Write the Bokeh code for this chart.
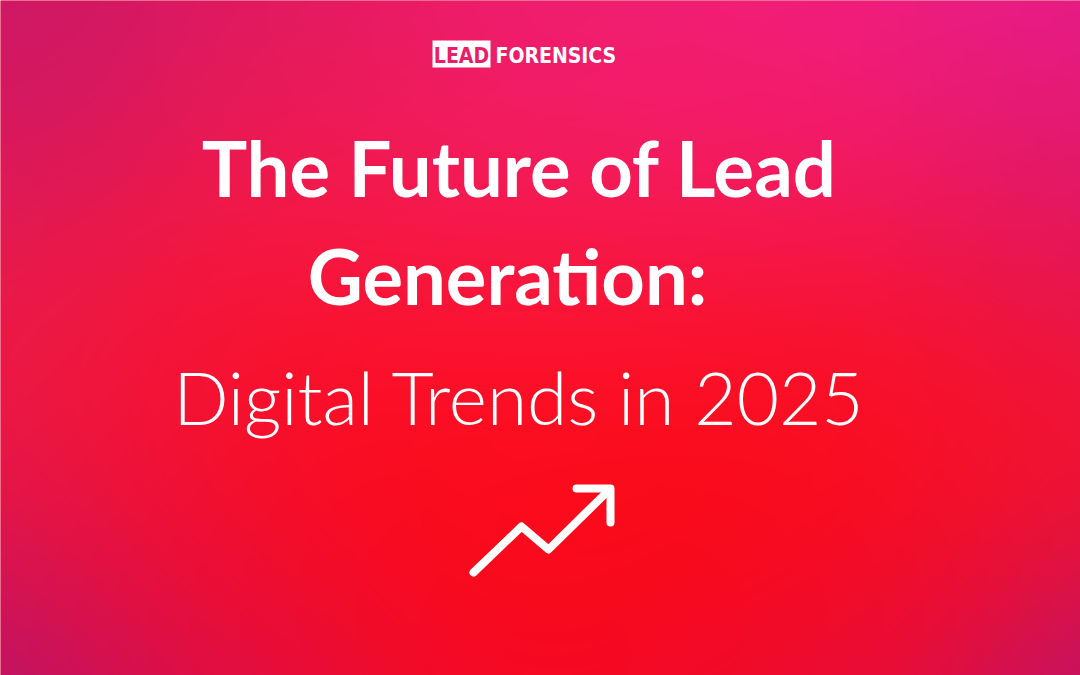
import numpy as np
from bokeh.plotting import figure
from bokeh.models import Range1d
from bokeh.core.properties import value
from bokeh.embed import file_html
from bokeh.resources import INLINE

# ---- content ----
title_lines = ["The Future of Lead", "Generation:"]
subtitle = "Digital Trends in 2025"
logo_left = "LEAD"
logo_right = "FORENSICS"

# anchor rows (reference pixels; data y = 675 - row)
title_rows = [167, 275]
title_centers = [519, 507]
subtitle_row = 396
subtitle_center = 519
logo_text_row = 55

# logo box (reference pixels)
logo_box_x = [432, 490]
logo_box_rows = [40, 67]

# trend arrow (reference pixels)
arrow_x = [473, 521, 548, 608]
arrow_rows = [572, 526, 549, 490]
head_x = [576, 610, 610]
head_rows = [488, 488, 522]

# background colour control points (x, row, colour)
bg_pts = [
    (0, 0, "#c8186a"), (300, 0, "#e01a64"), (600, 0, "#f01e78"), (1080, 0, "#ea1e96"),
    (820, 90, "#f41e84"), (1080, 150, "#e01a70"), (1080, 270, "#dc1556"),
    (1080, 450, "#fc1420"), (1080, 675, "#b0157a"), (800, 675, "#d80e58"),
    (540, 675, "#ee0a38"), (250, 675, "#c81064"), (0, 675, "#a0157e"),
    (0, 500, "#e8154a"), (0, 340, "#f01e48"), (0, 150, "#d8185e"),
    (540, 300, "#fa183c"), (540, 540, "#ff0606"), (300, 470, "#fe0c1c"),
    (800, 470, "#ff0c10"), (300, 220, "#f61a48"), (540, 130, "#f21e6a"),
    (200, 580, "#f80c28"), (850, 580, "#fc0a1c"), (780, 250, "#f41844"),
    (540, 420, "#ff1024"), (700, 560, "#ff0808"), (380, 560, "#ff0a12"),
    (150, 400, "#f81430"), (930, 380, "#fc1228"),
]

H = 675
W, PH = 1080, 675

p = figure(width=W, height=PH, output_backend="svg", toolbar_location=None,
           x_range=Range1d(0, W), y_range=Range1d(0, PH),
           min_border=0, outline_line_color=None)
p.axis.visible = False
p.grid.visible = False
p.background_fill_color = "#f01a45"
p.border_fill_color = "#f01a45"

# ---- gradient background ----
xs = np.arange(W) + 0.5
rows = (PH - 0.5) - np.arange(PH)
XX, RR = np.meshgrid(xs, rows)
acc = np.zeros((PH, W, 3))
wsum = np.zeros((PH, W))
sig = 130.0
for (cx, cr, col) in bg_pts:
    rgb = np.array([int(col[i:i + 2], 16) for i in (1, 3, 5)], dtype=float)
    w = np.exp(-((XX - cx) ** 2 + (RR - cr) ** 2) / (2 * sig ** 2)) + 1e-12
    acc += w[..., None] * rgb
    wsum += w
img_rgb = np.clip(acc / wsum[..., None], 0, 255).astype(np.uint32)
img = (255 << 24) | (img_rgb[..., 2] << 16) | (img_rgb[..., 1] << 8) | img_rgb[..., 0]
p.image_rgba(image=[img.astype(np.uint32)], x=0, y=0, dw=W, dh=PH)

# ---- logo ----
p.quad(left=[logo_box_x[0]], right=[logo_box_x[1]],
       bottom=[H - logo_box_rows[1]], top=[H - logo_box_rows[0]],
       fill_color="white", line_color=None)
p.text(x=[(logo_box_x[0] + logo_box_x[1]) / 2], y=[H - logo_text_row], text=[logo_left],
       text_font=value("DejaVu Sans Condensed"), text_font_style="bold",
       text_font_size="21px", text_color="#ea1d66", text_align="center",
       text_baseline="alphabetic")
p.text(x=[495], y=[H - logo_text_row], text=[logo_right],
       text_font=value("DejaVu Sans Condensed"), text_font_style="bold",
       text_font_size="21px", text_color="white", text_align="left",
       text_baseline="alphabetic")

# ---- titles ----
p.text(x=title_centers, y=[H - r for r in title_rows], text=title_lines,
       text_font=value("Lato"), text_font_style="bold", text_font_size="76px",
       text_color="white", text_align="center", text_baseline="alphabetic")
p.text(x=[subtitle_center], y=[H - subtitle_row], text=[subtitle],
       text_font=value("Lato Light"), text_font_size="73px",
       text_color="white", text_align="center", text_baseline="alphabetic")

# ---- arrow ----
p.line(x=arrow_x, y=[H - r for r in arrow_rows], line_color="white", line_width=8,
       line_cap="round", line_join="round")
p.line(x=head_x, y=[H - r for r in head_rows], line_color="white", line_width=8,
       line_cap="round", line_join="round")

open("out.html", "w").write(file_html(p, INLINE))
